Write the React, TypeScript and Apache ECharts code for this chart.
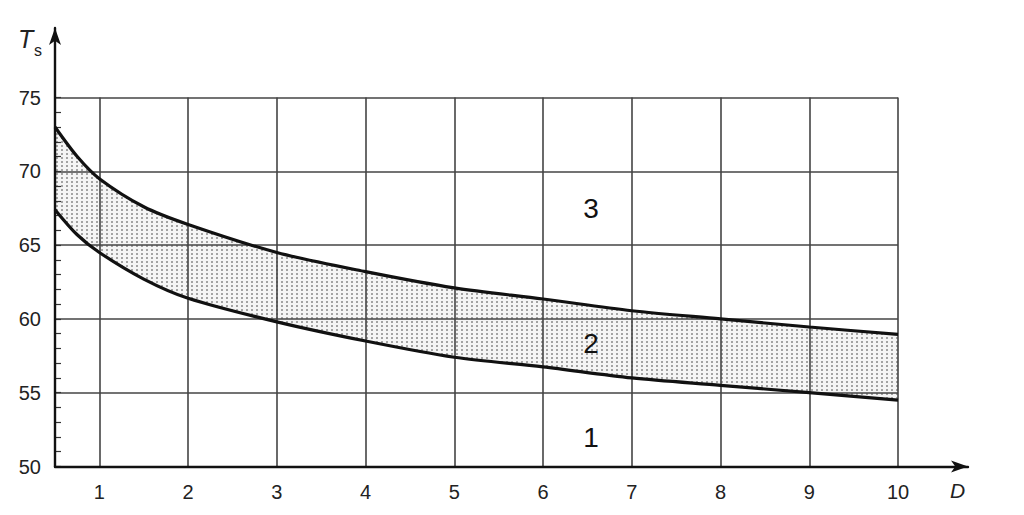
import React, { useEffect, useRef } from "react";
import * as echarts from "echarts";

const xValues = [0.5, 0.75, 1, 1.5, 2, 3, 4, 5, 6, 7, 8, 9, 10];
const upperCurve = [73.0, 71.0, 69.5, 67.6, 66.4, 64.5, 63.2, 62.1, 61.35, 60.55, 60.0, 59.45, 58.95];
const lowerCurve = [67.4, 65.7, 64.5, 62.7, 61.4, 59.8, 58.5, 57.4, 56.75, 56.0, 55.5, 55.0, 54.5];
const xTicks = [1, 2, 3, 4, 5, 6, 7, 8, 9, 10];
const regionLabels = ["1", "2", "3"];

function makeDotPattern(): HTMLCanvasElement {
  const c = document.createElement("canvas");
  c.width = 5;
  c.height = 4;
  const ctx = c.getContext("2d");
  if (ctx) {
    ctx.fillStyle = "#f5f5f5";
    ctx.fillRect(0, 0, 5, 4);
    ctx.fillStyle = "#808080";
    ctx.beginPath();
    ctx.arc(2, 2, 0.95, 0, Math.PI * 2);
    ctx.fill();
  }
  return c;
}

export default function App() {
  const ref = useRef<HTMLDivElement>(null);
  useEffect(() => {
    if (!ref.current) return;
    const chart = echarts.init(ref.current, null, { renderer: "svg" });
    const lowerData = xValues.map((x, i) => [x, lowerCurve[i]]);
    const upperData = xValues.map((x, i) => [x, upperCurve[i]]);
    const font = "Arial, 'Liberation Sans', sans-serif";
    const canvas = makeDotPattern();
    const curveStyle = { color: "#111", width: 3.2 };
    const smooth = 0.3;
    chart.setOption({
      animation: false,
      backgroundColor: "#ffffff",
      grid: [
        { left: 55, right: 126, top: 97.5, bottom: 48.5 },
        { left: 55, right: 56, top: 28, bottom: 48.5 },
      ],
      xAxis: [
        {
          type: "value",
          gridIndex: 0,
          min: 0.5,
          max: 10,
          z: 5,
          axisLine: { show: false },
          axisTick: { show: false, customValues: xTicks },
          axisLabel: {
            customValues: xTicks,
            fontSize: 20,
            color: "#222",
            fontFamily: font,
            margin: 15,
          },
          splitLine: { show: true, lineStyle: { color: "#444", width: 1.6 } },
        },
        {
          type: "value",
          gridIndex: 1,
          min: 0,
          max: 1,
          z: 6,
          axisLine: {
            show: true,
            onZero: false,
            symbol: ["none", "arrow"],
            symbolSize: [9, 17],
            lineStyle: { color: "#111", width: 2.4 },
          },
          axisTick: { show: false },
          axisLabel: { show: false },
          splitLine: { show: false },
        },
      ],
      yAxis: [
        {
          type: "value",
          gridIndex: 0,
          min: 50,
          max: 75,
          interval: 5,
          z: 5,
          axisLine: { show: false },
          axisTick: { show: true, inside: true, length: 6, lineStyle: { color: "#333", width: 1.2 } },
          minorTick: { show: true, splitNumber: 5, length: 6, lineStyle: { color: "#333", width: 1.2 } },
          axisLabel: { fontSize: 20, color: "#222", fontFamily: font, margin: 14 },
          splitLine: { show: true, lineStyle: { color: "#444", width: 1.6 } },
        },
        {
          type: "value",
          gridIndex: 1,
          min: 0,
          max: 1,
          z: 6,
          axisLine: {
            show: true,
            onZero: false,
            symbol: ["none", "arrow"],
            symbolSize: [9, 17],
            lineStyle: { color: "#111", width: 2.4 },
          },
          axisTick: { show: false },
          axisLabel: { show: false },
          splitLine: { show: false },
        },
      ],
      series: [
        {
          type: "line",
          name: "bandTop",
          xAxisIndex: 0,
          yAxisIndex: 0,
          data: upperData,
          smooth,
          showSymbol: false,
          lineStyle: { width: 0 },
          areaStyle: {
            origin: "start",
            color: { image: canvas, repeat: "repeat", imageWidth: 5, imageHeight: 4 },
            opacity: 1,
          },
          z: 1,
        },
        {
          type: "line",
          name: "bandBottomMask",
          xAxisIndex: 0,
          yAxisIndex: 0,
          data: lowerData,
          smooth,
          showSymbol: false,
          lineStyle: { width: 0 },
          areaStyle: { origin: "start", color: "#ffffff", opacity: 1 },
          z: 1,
        },
        {
          type: "line",
          name: "lower",
          xAxisIndex: 0,
          yAxisIndex: 0,
          data: lowerData,
          smooth,
          showSymbol: false,
          lineStyle: curveStyle,
          z: 10,
        },
        {
          type: "line",
          name: "upper",
          xAxisIndex: 0,
          yAxisIndex: 0,
          data: upperData,
          smooth,
          showSymbol: false,
          lineStyle: curveStyle,
          z: 10,
        },
      ],
      graphic: [
        { type: "text", z: 20, left: 18, top: 26, style: { text: "T", font: `italic 25px ${font}`, fill: "#222" } },
        { type: "text", z: 20, left: 34, top: 42, style: { text: "s", font: `16px ${font}`, fill: "#222" } },
        { type: "text", z: 20, left: 950, top: 480, style: { text: "D", font: `italic 21px ${font}`, fill: "#222" } },
        { type: "text", z: 20, x: 591, y: 437, style: { text: regionLabels[0], font: `28px ${font}`, fill: "#111", align: "center", verticalAlign: "middle" } },
        { type: "text", z: 20, x: 591, y: 343, style: { text: regionLabels[1], font: `28px ${font}`, fill: "#111", align: "center", verticalAlign: "middle" } },
        { type: "text", z: 20, x: 591, y: 208, style: { text: regionLabels[2], font: `28px ${font}`, fill: "#111", align: "center", verticalAlign: "middle" } },
      ],
    });
    return () => chart.dispose();
  }, []);
  return (
    <div
      ref={ref}
      style={{ position: "absolute", left: 0, top: 0, width: 1024, height: 515 }}
    />
  );
}
